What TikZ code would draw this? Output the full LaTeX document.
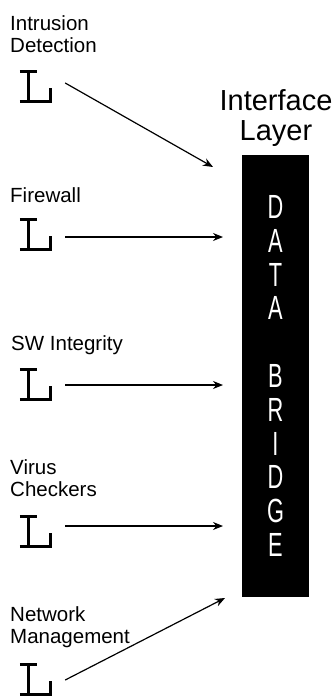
\documentclass[tikz,border=0pt]{standalone}
\usepackage{fontspec}
\setmainfont{Liberation Sans}
\newfontfamily\bridgefont[FakeStretch=0.65]{Liberation Sans}
\usetikzlibrary{arrows.meta}

\begin{document}
\begin{tikzpicture}[x=1pt, y=-1pt,
		lbl/.style={anchor=base west, align=left, inner sep=0pt,
			font=\fontsize{20.5}{22}\selectfont},
		lmark/.style={minimum width=32pt, minimum height=33pt, inner sep=0pt},
		lstroke/.style={line width=3pt},
		feed/.style={line width=1.2pt, -{Stealth[length=10pt, width=8pt]}},
		bridge/.style={fill=black, text=white, align=center, inner sep=0pt,
			minimum width=67pt, minimum height=442pt,
			font=\bridgefont\fontsize{33.5}{33.8}\selectfont}]
		\useasboundingbox (0,0) rectangle (335,696);

		% labels (base = last line)
		\node[lbl] (ids-lbl) at (10,52) {Intrusion\\Detection};
		\node[lbl] (fw-lbl) at (10,202) {Firewall};
		\node[lbl] (swi-lbl) at (11,350) {SW Integrity};
		\node[lbl] (vc-lbl) at (10,496) {Virus\\Checkers};
		\node[lbl] (nm-lbl) at (10,643) {Network\\Management};

		% interface layer
		\node[anchor=base, align=center, inner sep=0pt,
			font=\fontsize{29}{30}\selectfont] (layer) at (276,140) {Interface\\Layer};
		\node[bridge] (db) at (275.5,376) {D\\A\\T\\A\\[33.8pt]B\\R\\I\\D\\G\\E};

		% arrow tips
		\coordinate (ids-tip) at (213,167);
		\coordinate (fw-tip) at (223,237);
		\coordinate (swi-tip) at (223,385);
		\coordinate (vc-tip) at (223,526);
		\coordinate (nm-tip) at (225,598);

		% the L marks and their arrows
		\foreach \nm/\ytop/\dy in {ids/70/3.5, fw/218/-2.5, swi/368/-0.5, vc/515/5.5, nm/663/-0.5} {
			\node[lmark] (\nm) at (36,\ytop+16.5) {};
			\draw[lstroke, shift={(\nm.north west)}]
				(0,1.5) -- (17,1.5)
				(8.5,1.5) -- (8.5,31.5)
				(0,31.5) -- (30.5,31.5) -- (30.5,18);
			\draw[feed] ([xshift=13pt, yshift=\dy pt]\nm.east) -- (\nm-tip);
		}
\end{tikzpicture}
\end{document}
